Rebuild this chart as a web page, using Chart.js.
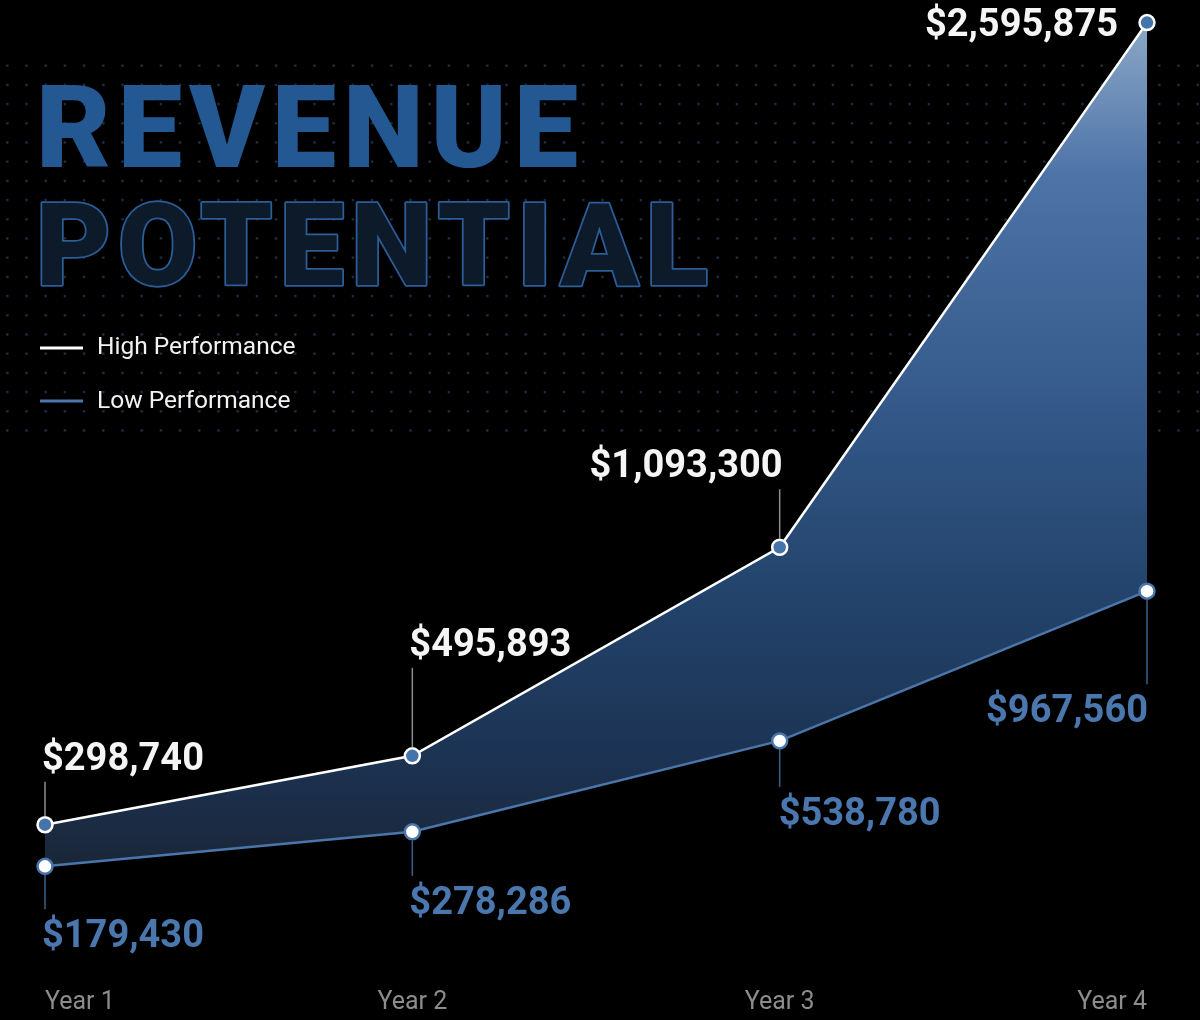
<!DOCTYPE html>
<html>
<head>
<meta charset="utf-8">
<title>Revenue Potential</title>
<script src="https://cdn.jsdelivr.net/npm/chart.js@4.4.1/dist/chart.umd.min.js"></script>
<style>
  html, body { margin: 0; padding: 0; background: #000; }
  .wrap { position: relative; width: 1200px; height: 1020px; }
</style>
</head>
<body>
<div class="wrap"><canvas id="revenueChart"></canvas></div>
<script>
const years = ["Year 1", "Year 2", "Year 3", "Year 4"];
const highPerformance = [298740, 495893, 1093300, 2595875];
const lowPerformance = [179430, 278286, 538780, 967560];
const seriesNames = ["High Performance", "Low Performance"];
const titleLines = ["REVENUE", "POTENTIAL"];

// where each value label sits relative to its point (style only)
const labelPlacement = [
  [
    { lead: 43, align: "left", dx: -3 },
    { lead: 88, align: "left", dx: -3 },
    { lead: 58, align: "right", dx: 3 },
    { lead: 0, align: "right", dx: -29, dy: 13 },
  ],
  [
    { lead: 43, align: "left", dx: -3 },
    { lead: 44, align: "left", dx: -3 },
    { lead: 46, align: "left", dx: -1 },
    { lead: 93, align: "right", dx: 1 },
  ],
];

const formatMoney = (v) => "$" + v.toLocaleString("en-US");

const fillGradient = (context) => {
  const chart = context.chart;
  const y = chart.scales.y;
  if (!chart.chartArea || !y) return "rgba(40, 70, 110, 0.9)";
  const top = y.getPixelForValue(Math.max(...highPerformance));
  const bottom = y.getPixelForValue(Math.min(...lowPerformance));
  const g = chart.ctx.createLinearGradient(0, top, 0, bottom);
  g.addColorStop(0, "#8aa7c6");
  g.addColorStop(0.18, "#4e74a7");
  g.addColorStop(0.45, "#34598a");
  g.addColorStop(0.67, "#23446c");
  g.addColorStop(0.87, "#1c3353");
  g.addColorStop(1, "#1a2638");
  return g;
};

const backdropPlugin = {
  id: "backdrop",
  beforeDraw(chart) {
    const ctx = chart.ctx;
    ctx.save();
    ctx.fillStyle = "#000";
    ctx.fillRect(0, 0, chart.width, chart.height);

    // dot grid
    ctx.fillStyle = "#1b2b41";
    for (let row = 0; row < 20; row++) {
      const yy = 65.7 + row * 19.2;
      for (let x = 7.3; x < chart.width; x += 19.2) {
        ctx.beginPath();
        ctx.arc(x, yy, 1.4, 0, Math.PI * 2);
        ctx.fill();
      }
    }

    // title, spaced out to fill its width
    const fitText = (text, x, right) => {
      ctx.letterSpacing = "0px";
      const w = ctx.measureText(text).width;
      ctx.letterSpacing = (right - x - w) / (text.length - 1) + "px";
    };
    ctx.textAlign = "left";
    ctx.textBaseline = "alphabetic";
    ctx.font = "900 115px Roboto";
    fitText(titleLines[0], 38, 580);
    ctx.fillStyle = "#245892";
    ctx.fillText(titleLines[0], 36, 167);

    fitText(titleLines[1], 38, 710);
    ctx.strokeStyle = "#2b5e99";
    ctx.lineWidth = 3.5;
    ctx.lineJoin = "round";
    ctx.strokeText(titleLines[1], 36, 285);
    ctx.fillStyle = "#0d1a2a";
    ctx.fillText(titleLines[1], 36, 285);
    ctx.letterSpacing = "0px";

    // legend
    ctx.font = "400 24.5px Roboto";
    chart.data.datasets.forEach((ds, i) => {
      const ly = 348 + i * 53;
      ctx.strokeStyle = ds.borderColor;
      ctx.lineWidth = 3;
      ctx.beginPath();
      ctx.moveTo(40, ly);
      ctx.lineTo(83, ly);
      ctx.stroke();
      ctx.fillStyle = "#f2f2f2";
      ctx.fillText(ds.label, 97, ly + 6 + i);
    });
    ctx.restore();
  },
};

const valueLabelPlugin = {
  id: "valueLabels",
  afterDatasetsDraw(chart) {
    const ctx = chart.ctx;
    ctx.save();
    ctx.font = "700 38px Roboto";
    ctx.textBaseline = "alphabetic";
    chart.data.datasets.forEach((ds, di) => {
      const meta = chart.getDatasetMeta(di);
      const above = di === 0;
      meta.data.forEach((pt, i) => {
        const place = labelPlacement[di][i];
        const r = 8.5;
        let baseline;
        if (place.lead > 0) {
          const end = above ? pt.y - place.lead : pt.y + place.lead;
          ctx.strokeStyle = above ? "#8c8c8c" : "#3a5f8a";
          ctx.lineWidth = 1.5;
          ctx.beginPath();
          ctx.moveTo(pt.x, above ? pt.y - r : pt.y + r);
          ctx.lineTo(pt.x, end);
          ctx.stroke();
          baseline = above ? end - 12 : end + 38;
        } else {
          baseline = pt.y + (place.dy || 0);
        }
        ctx.textAlign = place.align;
        ctx.fillStyle = above ? "#f5f5f5" : "#4a78ae";
        ctx.fillText(formatMoney(ds.data[i]), pt.x + place.dx, baseline);
      });
    });
    ctx.restore();
  },
};

new Chart(document.getElementById("revenueChart"), {
  type: "line",
  data: {
    labels: years,
    datasets: [
      {
        label: seriesNames[0],
        data: highPerformance,
        borderColor: "#ffffff",
        borderWidth: 2.5,
        backgroundColor: fillGradient,
        fill: "+1",
        tension: 0,
        pointRadius: 7.5,
        pointHoverRadius: 7.5,
        pointBorderWidth: 2.5,
        pointBackgroundColor: "#4474a9",
        pointBorderColor: "#ffffff",
        clip: false,
      },
      {
        label: seriesNames[1],
        data: lowPerformance,
        borderColor: "#4a76ab",
        borderWidth: 2.5,
        fill: false,
        tension: 0,
        pointRadius: 7.5,
        pointHoverRadius: 7.5,
        pointBorderWidth: 2.5,
        pointBackgroundColor: "#ffffff",
        pointBorderColor: "#4a76ab",
        clip: false,
      },
    ],
  },
  options: {
    responsive: true,
    maintainAspectRatio: false,
    animation: false,
    layout: { padding: { top: 10, left: 45, right: 53, bottom: -57 } },
    plugins: {
      legend: { display: false },
      tooltip: { enabled: false },
      filler: { drawTime: "beforeDatasetsDraw" },
    },
    scales: {
      x: {
        offset: false,
        grid: { display: false, drawTicks: false },
        border: { display: false },
        ticks: {
          align: "inner",
          color: "#8c8c8c",
          padding: 59,
          font: { family: "Roboto", size: 25, weight: "400" },
        },
        afterFit: (scale) => {
          // labels are aligned inside, so they need no side padding
          scale.paddingLeft = 0;
          scale.paddingRight = 0;
        },
      },
      y: {
        display: false,
        min: 0,
        max: 2632000,
      },
    },
  },
  plugins: [backdropPlugin, valueLabelPlugin],
});
</script>
</body>
</html>
